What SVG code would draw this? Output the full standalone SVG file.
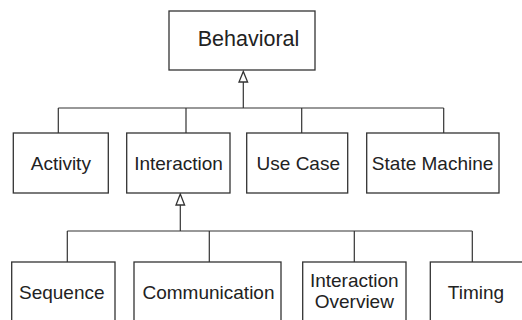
<svg xmlns="http://www.w3.org/2000/svg" width="522" height="320" viewBox="0 0 522 320">
  <style>
    .box { fill: #ffffff; stroke: #333333; stroke-width: 1.3; }
    .lbl { font-family: "Liberation Sans", Arial, sans-serif; font-size: 19px; fill: #222222; text-anchor: middle; }
    .edge { fill: none; stroke: #333333; stroke-width: 1.2; }
    .head { fill: #ffffff; stroke: #333333; stroke-width: 1.3; stroke-linejoin: miter; }
  </style>
  <rect width="522" height="320" fill="#ffffff"/>

  <!-- generalization connectors -->
  <g id="connectors">
    <!-- Behavioral and its specializations -->
    <path class="edge" d="M243.3 82 V108 M58.3 108 H443.7 M58.3 108 V133 M186 108 V133 M301.7 108 V133 M443.7 108 V133"/>
    <polygon class="head" points="243.3,71.5 239,82 247.6,82"/>
    <!-- Interaction and its specializations -->
    <path class="edge" d="M180.3 205 V231 M67.3 231 H472.3 M67.3 231 V262 M209.3 231 V262 M354.3 231 V262 M472.3 231 V262"/>
    <polygon class="head" points="180.3,194 176,205 184.6,205"/>
  </g>

  <g id="behavioral">
    <rect class="box" x="169" y="11" width="146" height="59"/>
    <text class="lbl" x="248.5" y="46" style="font-size:21.5px">Behavioral</text>
  </g>

  <g id="activity">
    <rect class="box" x="13.3" y="133" width="95" height="60"/>
    <text class="lbl" x="60.8" y="170">Activity</text>
  </g>
  <g id="interaction">
    <rect class="box" x="126.7" y="133" width="103.3" height="60"/>
    <text class="lbl" x="178.5" y="170">Interaction</text>
  </g>
  <g id="use-case">
    <rect class="box" x="246.7" y="133" width="101" height="60"/>
    <text class="lbl" x="298.3" y="170">Use Case</text>
  </g>
  <g id="state-machine">
    <rect class="box" x="366.7" y="133" width="132.3" height="60"/>
    <text class="lbl" x="432.6" y="170">State Machine</text>
  </g>

  <g id="sequence">
    <rect class="box" x="11.7" y="262" width="103.3" height="62"/>
    <text class="lbl" x="61.8" y="299">Sequence</text>
  </g>
  <g id="communication">
    <rect class="box" x="134" y="262" width="147" height="62"/>
    <text class="lbl" x="208.5" y="299">Communication</text>
  </g>
  <g id="interaction-overview">
    <rect class="box" x="302.7" y="262" width="103.3" height="62"/>
    <text class="lbl" x="354.3" y="286.7">Interaction</text>
    <text class="lbl" x="354.3" y="308.3">Overview</text>
  </g>
  <g id="timing">
    <rect class="box" x="430.3" y="262" width="95" height="62"/>
    <text class="lbl" x="476" y="299.3">Timing</text>
  </g>
</svg>
